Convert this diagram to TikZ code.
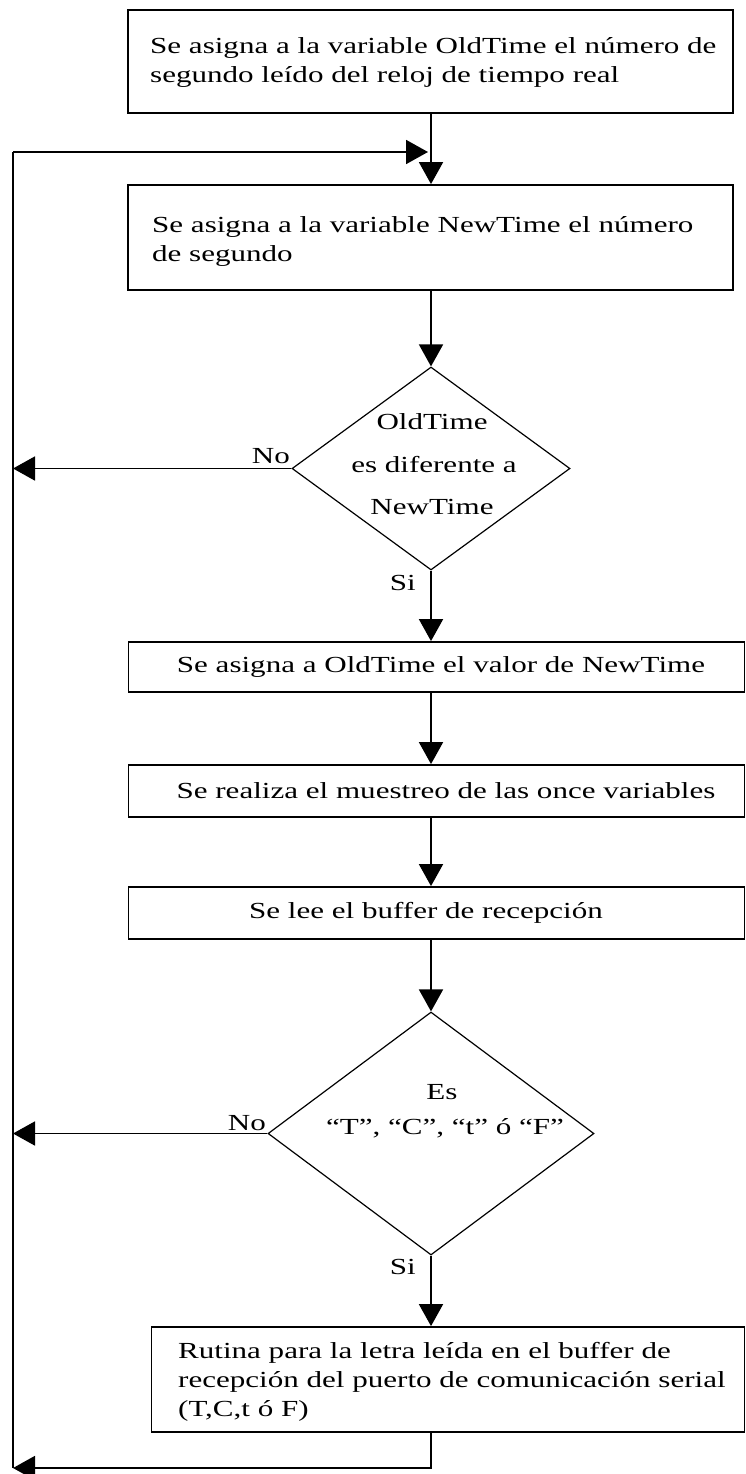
\documentclass[tikz,border=0pt]{standalone}
\usepackage{fontspec}
\setmainfont{Liberation Serif}[FakeStretch=1.35]
\usetikzlibrary{arrows.meta,shapes.geometric}

\begin{document}
\begin{tikzpicture}[x=1pt,y=-1pt,
  box/.style={draw, line width=1.8pt, inner sep=0pt},
  dia/.style={draw, diamond, line width=1.2pt, inner sep=0pt},
  txt/.style={inner sep=0pt, align=left, font=\fontsize{23}{29}\selectfont},
  lbl/.style={inner sep=0pt, font=\fontsize{23}{29}\selectfont},
  wire/.style={line width=1.8pt},
  conn/.style={line width=1.8pt, -{Triangle[length=22pt,width=24pt]}}]

\useasboundingbox (0,0) rectangle (746,1474);
\fill[white] (0,0) rectangle (746,1474);

% process boxes
\node[box, minimum width=605pt, minimum height=103pt] (b1) at (430.5,61.5) {};
\node[box, minimum width=605pt, minimum height=105pt] (b2) at (430.5,237.5) {};
\node[box, minimum width=616pt, minimum height=50pt] (b3) at (436.5,667) {};
\node[box, minimum width=616pt, minimum height=52pt] (b4) at (436.5,791) {};
\node[box, minimum width=616pt, minimum height=52pt] (b5) at (436.5,913) {};
\node[box, minimum width=593pt, minimum height=105pt] (b6) at (448,1379.5) {};

% decisions
\node[dia, minimum width=278pt, minimum height=203pt] (d1) at (431,468.5) {};
\node[dia, minimum width=326pt, minimum height=243pt] (d2) at (431,1133.5) {};

% texts
\node[txt, anchor=west] (t1) at (150,62) {Se asigna a la variable OldTime el número de\\segundo leído del reloj de tiempo real};
\node[txt, anchor=west] (t2) at (152,241) {Se asigna a la variable NewTime el número\\de segundo};
\node[lbl] (t31) at (432,422) {OldTime};
\node[lbl] (t32) at (434,465) {es diferente a};
\node[lbl] (t33) at (432,507) {NewTime};
\node[lbl] (t4) at (441,667) {Se asigna a OldTime el valor de NewTime};
\node[lbl] (t5) at (446,791) {Se realiza el muestreo de las once variables};
\node[lbl] (t6) at (426,913) {Se lee el buffer de recepción};
\node[lbl] (t71) at (442,1092) {Es};
\node[lbl] (t72) at (445,1128) {“T”, “C”, “t” ó “F”};
\node[txt, anchor=west] (t8) at (178,1382) {Rutina para la letra leída en el buffer de\\recepción del puerto de comunicación serial\\(T,C,t ó F)};

% branch labels
\node[lbl, anchor=base east] (no1) at (290,463) {No};
\node[lbl, anchor=base east] (si1) at (416,590) {Si};
\node[lbl, anchor=base east] (no2) at (266,1130) {No};
\node[lbl, anchor=base east] (si2) at (416,1274) {Si};

% loop rail
\coordinate (j) at (431,152);
\coordinate (rt) at (13,152);
\coordinate (rb) at (13,1468);

% connectors
\draw[wire] (j |- b1.south) -- (j);
\draw[conn] (j) -- (j |- b2.north);
\draw[wire] (rt) -- (rb);
\draw[conn] (rt) -- ([xshift=-3pt]j);
\draw[conn] (j |- b2.south) -- (d1.north);
\draw[conn] (d1.west) -- (d1.west -| rt);
\draw[conn] (d1.south) -- (d1.south |- b3.north);
\draw[conn] (d1.south |- b3.south) -- (d1.south |- b4.north);
\draw[conn] (d1.south |- b4.south) -- (d1.south |- b5.north);
\draw[conn] (d1.south |- b5.south) -- (d2.north);
\draw[conn] (d2.west) -- (d2.west -| rt);
\draw[conn] (d2.south) -- (d2.south |- b6.north);
\draw[conn] (d2.south |- b6.south) |- (rb);
\end{tikzpicture}
\end{document}
